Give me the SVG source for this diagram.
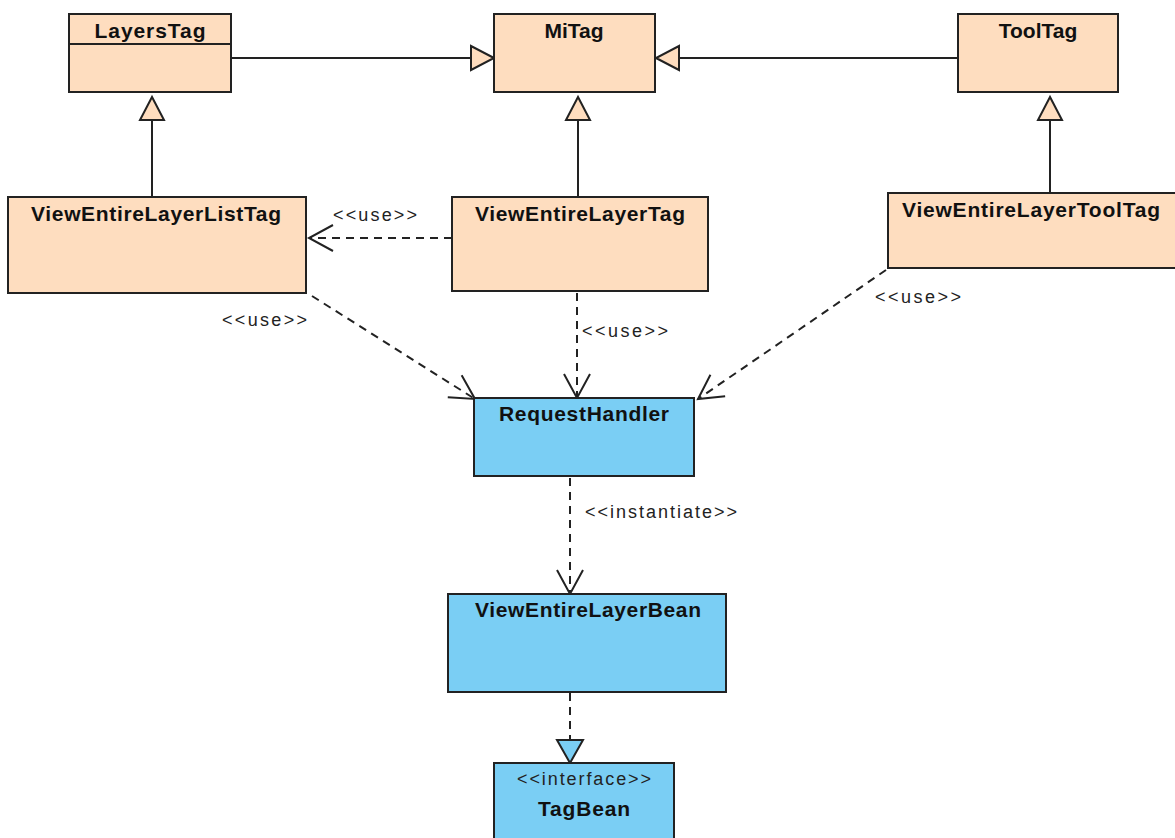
<svg xmlns="http://www.w3.org/2000/svg" width="1175" height="838" viewBox="0 0 1175 838">
<style>
.peach{fill:#FEDDBF;stroke:#222;stroke-width:2}
.blue{fill:#7ACEF4;stroke:#222;stroke-width:2}
.t{font-family:"Liberation Sans",Arial,sans-serif;font-weight:bold;font-size:21px;fill:#111;text-anchor:middle}
.l{font-family:"Liberation Sans",Arial,sans-serif;font-size:18px;fill:#222}
.solid{stroke:#222;stroke-width:2;fill:none}
.dash{stroke:#222;stroke-width:2;fill:none;stroke-dasharray:8 6}
</style>
<defs>
<marker id="gen" markerUnits="userSpaceOnUse" markerWidth="30" markerHeight="30" refX="0" refY="0" orient="auto" overflow="visible">
<path d="M0,0 L-23,-12 L-23,12 Z" fill="#FEDDBF" stroke="#222" stroke-width="2"/>
</marker>
<marker id="real" markerUnits="userSpaceOnUse" markerWidth="30" markerHeight="30" refX="0" refY="0" orient="auto" overflow="visible">
<path d="M0,0 L-23,-13 L-23,13 Z" fill="#7ACEF4" stroke="#222" stroke-width="2"/>
</marker>
<marker id="open" markerUnits="userSpaceOnUse" markerWidth="30" markerHeight="30" refX="0" refY="0" orient="auto" overflow="visible">
<path d="M-24,-13 L0,0 L-24,13" fill="none" stroke="#222" stroke-width="2" stroke-dasharray="none"/>
</marker>
</defs>
<g id="connectors">
<line class="solid" x1="231" y1="58" x2="494" y2="58" marker-end="url(#gen)"/>
<line class="solid" x1="958" y1="58" x2="656" y2="58" marker-end="url(#gen)"/>
<line class="solid" x1="152" y1="197" x2="152" y2="97" marker-end="url(#gen)"/>
<line class="solid" x1="578" y1="197" x2="578" y2="97" marker-end="url(#gen)"/>
<line class="solid" x1="1050" y1="193" x2="1050" y2="97" marker-end="url(#gen)"/>
<line class="dash" x1="452" y1="238" x2="309" y2="238" marker-end="url(#open)"/>
<line class="dash" x1="312" y1="296" x2="475" y2="399" marker-end="url(#open)"/>
<line class="dash" x1="577" y1="293" x2="577" y2="398" marker-end="url(#open)"/>
<line class="dash" x1="886" y1="270" x2="698" y2="399" marker-end="url(#open)"/>
<line class="dash" x1="570" y1="478" x2="570" y2="594" marker-end="url(#open)"/>
<line class="dash" x1="570" y1="693" x2="570" y2="763" marker-end="url(#real)"/>
<text class="l" x="333" y="221" textLength="84">&lt;&lt;use&gt;&gt;</text>
<text class="l" x="222" y="326" textLength="85">&lt;&lt;use&gt;&gt;</text>
<text class="l" x="582" y="337" textLength="86">&lt;&lt;use&gt;&gt;</text>
<text class="l" x="875" y="303" textLength="86">&lt;&lt;use&gt;&gt;</text>
<text class="l" x="585" y="518" textLength="152">&lt;&lt;instantiate&gt;&gt;</text>
</g>
<g id="LayersTag">
<rect class="peach" x="69" y="14" width="162" height="78"/>
<line class="solid" x1="69" y1="44" x2="231" y2="44"/>
<text class="t" x="150" y="38" textLength="111">LayersTag</text>
</g>
<g id="MiTag">
<rect class="peach" x="494" y="14" width="161" height="78"/>
<text class="t" x="574" y="38">MiTag</text>
</g>
<g id="ToolTag">
<rect class="peach" x="958" y="14" width="160" height="78"/>
<text class="t" x="1038" y="38">ToolTag</text>
</g>
<g id="ViewEntireLayerListTag">
<rect class="peach" x="8" y="197" width="298" height="96"/>
<text class="t" x="156" y="221" textLength="250">ViewEntireLayerListTag</text>
</g>
<g id="ViewEntireLayerTag">
<rect class="peach" x="452" y="197" width="256" height="94"/>
<text class="t" x="580" y="221" textLength="210">ViewEntireLayerTag</text>
</g>
<g id="ViewEntireLayerToolTag">
<rect class="peach" x="888" y="193" width="290" height="75"/>
<text class="t" x="1031" y="217" textLength="258">ViewEntireLayerToolTag</text>
</g>
<g id="RequestHandler">
<rect class="blue" x="474" y="398" width="220" height="78"/>
<text class="t" x="584" y="421" textLength="170">RequestHandler</text>
</g>
<g id="ViewEntireLayerBean">
<rect class="blue" x="448" y="594" width="278" height="98"/>
<text class="t" x="588" y="617" textLength="226">ViewEntireLayerBean</text>
</g>
<g id="TagBean">
<rect class="blue" x="494" y="763" width="180" height="80"/>
<text class="l" x="584" y="785" text-anchor="middle" textLength="134">&lt;&lt;interface&gt;&gt;</text>
<text class="t" x="584" y="816" textLength="92">TagBean</text>
</g>
</svg>
